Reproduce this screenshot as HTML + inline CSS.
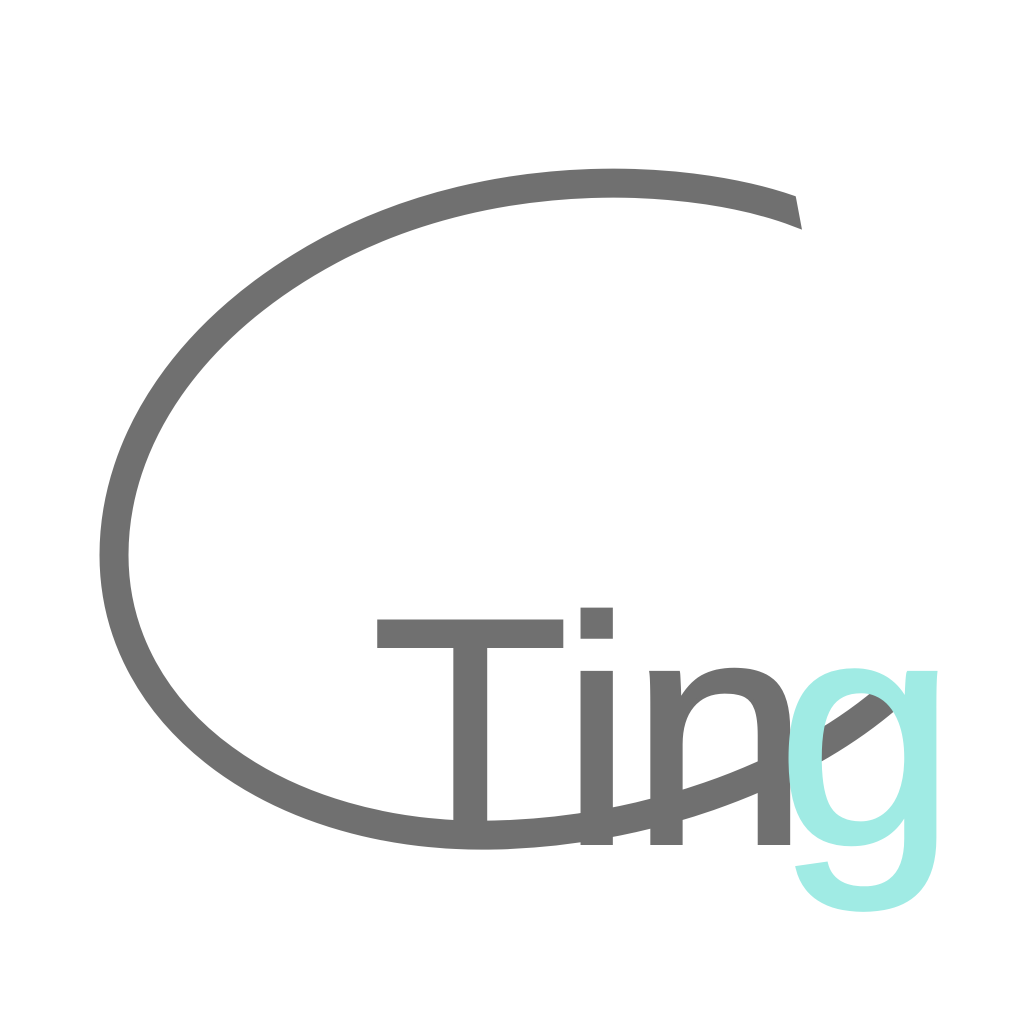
<!DOCTYPE html>
<html>
<head>
<meta charset="utf-8">
<style>
  html,body{margin:0;padding:0;background:#ffffff;}
  svg{display:block;}
</style>
</head>
<body>
<svg width="1024" height="1024" viewBox="0 0 1024 1024">
  <rect x="0" y="0" width="1024" height="1024" fill="#ffffff"/>
  <path
        d="M 815 219 C 799 213, 799 213, 799 213 C 700 175, 500 160, 330 250 C 190 325, 114 440, 114 555 C 114 720, 280 840, 495 835 C 640 832, 790 780, 885 700"
        fill="none" stroke="#707070" stroke-width="29" stroke-linecap="butt"/>
  <polygon points="793.6,185 850,185 850,245 804.9,245" fill="#ffffff"/>
  <g font-family="'Liberation Sans', sans-serif" font-size="322" stroke-width="4" stroke-linejoin="miter">
    <text x="372" y="843" fill="#707070" stroke="#707070">T</text>
    <text x="561" y="843" fill="#707070" stroke="#707070">i</text>
    <text x="630" y="843" fill="#707070" stroke="#707070">n</text>
    <text x="777" y="843" fill="#a0ebe4" stroke="#a0ebe4">g</text>
  </g>
</svg>
</body>
</html>
